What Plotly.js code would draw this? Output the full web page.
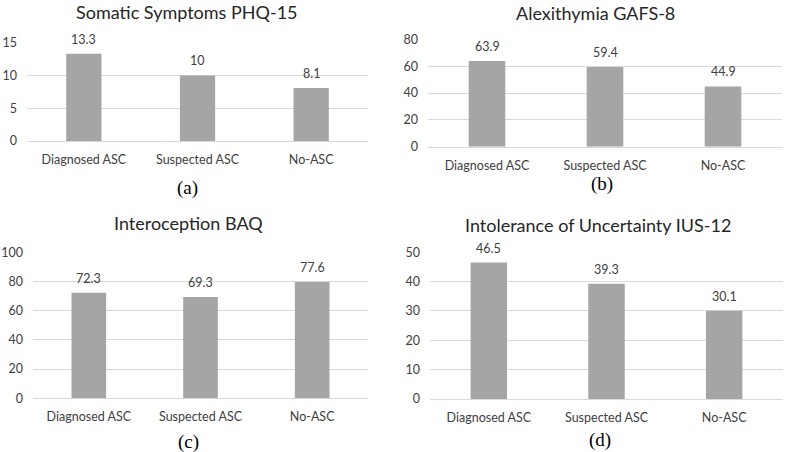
<!DOCTYPE html>
<html>
<head>
<meta charset="utf-8">
<script src="https://cdn.plot.ly/plotly-3.0.1.min.js"></script>
<style>html,body{margin:0;padding:0;background:#fff}#chart{width:790px;height:452px}</style>
</head>
<body>
<div id="chart"></div>
<script>
const categories = ["Diagnosed ASC", "Suspected ASC", "No-ASC"];
const panelTitles = ["Somatic Symptoms PHQ-15", "Alexithymia GAFS-8", "Interoception BAQ", "Intolerance of Uncertainty IUS-12"];
const panelLetters = ["(a)", "(b)", "(c)", "(d)"];
const somaticValues = [13.3, 10, 8.1];
const somaticLabels = ["13.3", "10", "8.1"];
const alexithymiaValues = [63.9, 59.4, 44.9];
const alexithymiaLabels = ["63.9", "59.4", "44.9"];
const interoceptionValues = [72.3, 69.3, 79.6];
const interoceptionLabels = ["72.3", "69.3", "77.6"];
const uncertaintyValues = [46.5, 39.3, 30.1];
const uncertaintyLabels = ["46.5", "39.3", "30.1"];
const yRanges = [[0, 15], [0, 80], [0, 100], [0, 50]];
const yDtick = [5, 20, 20, 10];

const seriesValues = [somaticValues, alexithymiaValues, interoceptionValues, uncertaintyValues];
const seriesLabels = [somaticLabels, alexithymiaLabels, interoceptionLabels, uncertaintyLabels];

const W = 790, H = 452;
// panel pixel boxes: [left, right, top, bottom]
const boxes = [[27, 368, 42.7, 141], [428, 782, 39.3, 146.7], [33, 368, 252.3, 398.3], [430, 783, 252.3, 399]];
const titlePos = [[187, 12], [595, 13], [188, 223], [598, 225]];
const letterPos = [[187, 188], [602, 184], [188, 442], [600, 440]];

const font = "Lato, 'Open Sans', sans-serif";
const data = [];
const layout = {
  width: W, height: H,
  margin: {l: 0, r: 0, t: 0, b: 0},
  paper_bgcolor: "#ffffff", plot_bgcolor: "#ffffff",
  showlegend: false,
  font: {family: font, color: "#595959", size: 12},
  annotations: []
};

for (let i = 0; i < 4; i++) {
  const sfx = i === 0 ? "" : String(i + 1);
  const b = boxes[i];
  data.push({
    type: "bar",
    x: categories,
    y: seriesValues[i],
    marker: {color: "#a5a5a5"},
    xaxis: "x" + sfx, yaxis: "y" + sfx,
    hoverinfo: "skip"
  });
  layout["xaxis" + sfx] = {
    domain: [b[0] / W, b[1] / W],
    anchor: "y" + sfx,
    showgrid: false, zeroline: false,
    showline: true, linecolor: "#d9d9d9", linewidth: 1,
    ticks: "", ticklabelstandoff: 7,
    tickfont: {family: font, size: 12.5, color: "#404040"},
    fixedrange: true
  };
  layout["yaxis" + sfx] = {
    domain: [1 - b[3] / H, 1 - b[2] / H],
    anchor: "x" + sfx,
    range: yRanges[i], dtick: yDtick[i], tick0: 0,
    showgrid: true, gridcolor: "#d9d9d9", gridwidth: 1,
    zeroline: false, showline: false,
    ticks: "", ticklabelstandoff: 9,
    tickfont: {family: font, size: 12.5, color: "#404040"},
    fixedrange: true
  };
  // value labels above the bars, positioned through the axes
  categories.forEach((c, j) => {
    layout.annotations.push({
      text: seriesLabels[i][j], xref: "x" + sfx, yref: "y" + sfx,
      x: c, y: seriesValues[i][j],
      xanchor: "center", yanchor: "bottom", yshift: 5,
      showarrow: false,
      font: {family: font, size: 12.5, color: "#404040"}
    });
  });
  layout.annotations.push({
    text: panelTitles[i], xref: "paper", yref: "paper",
    x: titlePos[i][0] / W, y: 1 - titlePos[i][1] / H,
    xanchor: "center", yanchor: "middle", showarrow: false,
    font: {family: font, size: 18, color: "#262626"}
  });
  layout.annotations.push({
    text: panelLetters[i], xref: "paper", yref: "paper",
    x: letterPos[i][0] / W, y: 1 - letterPos[i][1] / H,
    xanchor: "center", yanchor: "middle", showarrow: false,
    font: {family: "'Liberation Serif', 'Times New Roman', serif", size: 19, color: "#000000"}
  });
}
layout.bargap = 0.69;

Plotly.newPlot("chart", data, layout, {displayModeBar: false, staticPlot: true});
</script>
</body>
</html>
